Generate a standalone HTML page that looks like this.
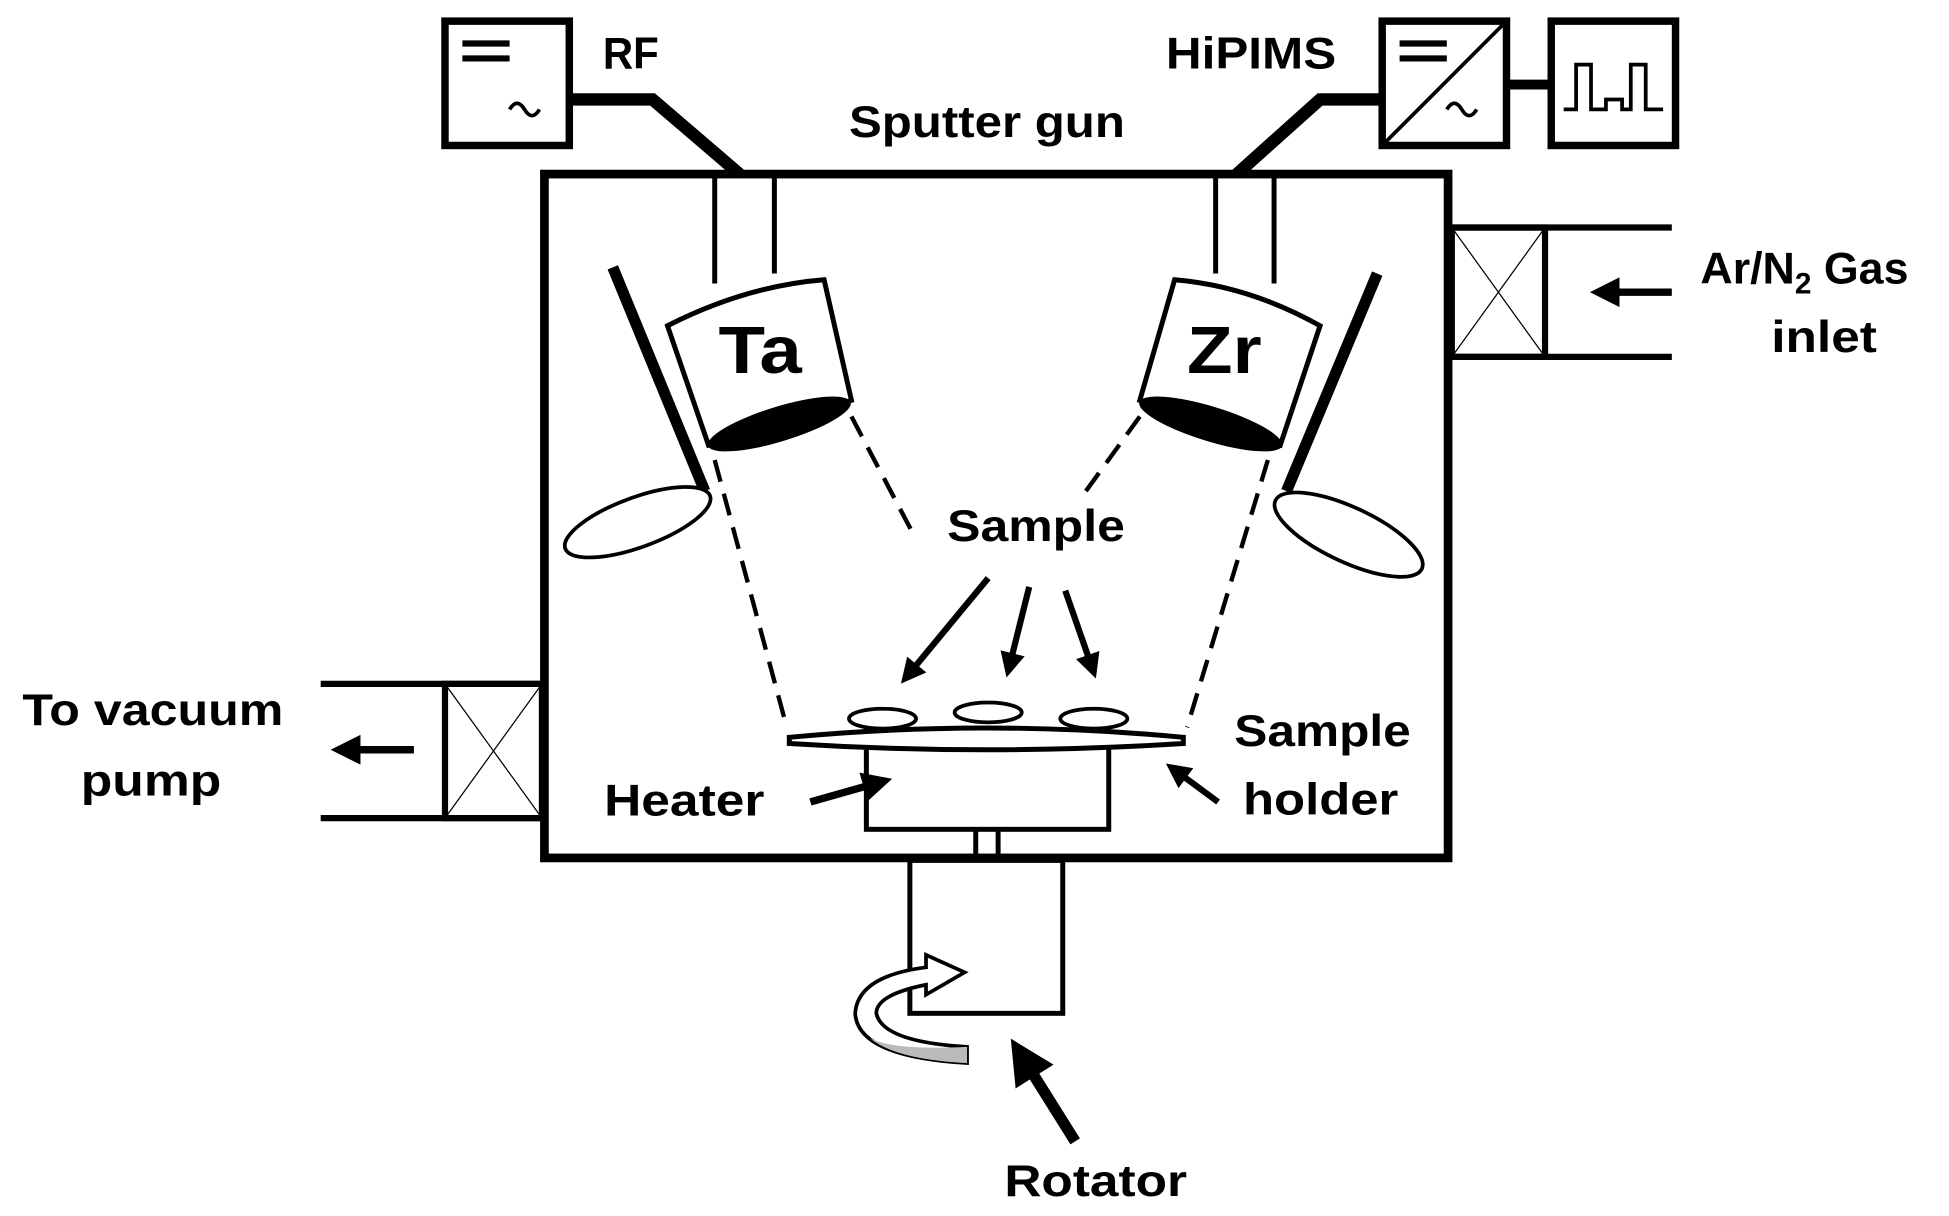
<!DOCTYPE html>
<html><head><meta charset="utf-8"><style>
html,body{margin:0;padding:0;background:#fff;}
svg{display:block}
text{font-family:"Liberation Sans",sans-serif;font-weight:bold;fill:#000}
</style></head><body>
<svg width="1949" height="1216" viewBox="0 0 1568 978" preserveAspectRatio="none" xmlns="http://www.w3.org/2000/svg">
<defs>
<marker id="ah" markerWidth="4" markerHeight="4" refX="3" refY="2" orient="auto" markerUnits="strokeWidth"><path d="M0,0 L4,2 L0,4 Z" fill="#000"/></marker>
</defs>
<rect width="1568" height="978" fill="#fff"/>
<rect x="438" y="140" width="727" height="550" fill="none" stroke="#000" stroke-width="7"/>
<rect x="358" y="17" width="100" height="100" fill="none" stroke="#000" stroke-width="6"/>
<line x1="372" y1="35" x2="410" y2="35" stroke="#000" stroke-width="5"/>
<line x1="372" y1="47" x2="410" y2="47" stroke="#000" stroke-width="5"/>
<path d="M410,88 q6,-10 12,0 t12,0" fill="none" stroke="#000" stroke-width="3"/>
<text x="485" y="55" font-size="36" textLength="45" lengthAdjust="spacingAndGlyphs">RF</text>
<polyline points="458,80 525,80 595,140" fill="none" stroke="#000" stroke-width="10"/>
<text x="938" y="55" font-size="36" textLength="137" lengthAdjust="spacingAndGlyphs">HiPIMS</text>
<polyline points="1112,80 1062,80 995,140" fill="none" stroke="#000" stroke-width="10"/>
<rect x="1112" y="17" width="100" height="100" fill="none" stroke="#000" stroke-width="6"/>
<line x1="1115" y1="114" x2="1209" y2="20" stroke="#000" stroke-width="3"/>
<line x1="1126" y1="35" x2="1164" y2="35" stroke="#000" stroke-width="5"/>
<line x1="1126" y1="47" x2="1164" y2="47" stroke="#000" stroke-width="5"/>
<path d="M1164,88 q6,-10 12,0 t12,0" fill="none" stroke="#000" stroke-width="3"/>
<line x1="1212" y1="68" x2="1248" y2="68" stroke="#000" stroke-width="8"/>
<rect x="1248" y="17" width="100" height="100" fill="none" stroke="#000" stroke-width="6"/>
<polyline points="1258,88 1268,88 1268,52 1280,52 1280,88 1292,88 1292,80 1305,80 1305,88 1312,88 1312,52 1324,52 1324,88 1338,88" fill="none" stroke="#000" stroke-width="3"/>
<text x="683" y="110" font-size="36" textLength="222" lengthAdjust="spacingAndGlyphs">Sputter gun</text>
<!-- Ta gun -->
<line x1="575" y1="140" x2="575" y2="228" stroke="#000" stroke-width="4"/>
<line x1="623" y1="140" x2="623" y2="220" stroke="#000" stroke-width="4"/>
<path d="M537,262 Q600,230 663,225 L685,322 L570,358 Z" fill="#fff" stroke="#000" stroke-width="4"/>
<ellipse cx="627" cy="341" rx="60" ry="14" transform="rotate(-17 627 341)" fill="#000"/>
<text x="578" y="300" font-size="54" textLength="67" lengthAdjust="spacingAndGlyphs">Ta</text>
<line x1="493" y1="215" x2="567" y2="395" stroke="#000" stroke-width="9"/>
<ellipse cx="513" cy="420" rx="62" ry="20" transform="rotate(-20 513 420)" fill="#fff" stroke="#000" stroke-width="3"/>
<line x1="575" y1="370" x2="633" y2="585" stroke="#000" stroke-width="3.5" stroke-dasharray="18,10"/>
<line x1="685" y1="335" x2="735" y2="430" stroke="#000" stroke-width="3.5" stroke-dasharray="18,10"/>
<!-- Zr gun -->
<line x1="978" y1="140" x2="978" y2="220" stroke="#000" stroke-width="4"/>
<line x1="1025" y1="140" x2="1025" y2="228" stroke="#000" stroke-width="4"/>
<path d="M945,225 Q1005,230 1062,262 L1030,358 L917,322 Z" fill="#fff" stroke="#000" stroke-width="4"/>
<ellipse cx="974" cy="341" rx="60" ry="14" transform="rotate(17 974 341)" fill="#000"/>
<text x="955" y="300" font-size="54" textLength="60" lengthAdjust="spacingAndGlyphs">Zr</text>
<line x1="1108" y1="220" x2="1035" y2="395" stroke="#000" stroke-width="9"/>
<ellipse cx="1085" cy="430" rx="65" ry="22" transform="rotate(25 1085 430)" fill="#fff" stroke="#000" stroke-width="3"/>
<line x1="1020" y1="370" x2="955" y2="585" stroke="#000" stroke-width="3.5" stroke-dasharray="18,10"/>
<line x1="917" y1="335" x2="870" y2="400" stroke="#000" stroke-width="3.5" stroke-dasharray="18,10"/>
<!-- gas inlet -->
<line x1="1165" y1="183" x2="1345" y2="183" stroke="#000" stroke-width="5"/>
<line x1="1165" y1="287" x2="1345" y2="287" stroke="#000" stroke-width="5"/>
<rect x="1168" y="183" width="75" height="104" fill="none" stroke="#000" stroke-width="5"/>
<line x1="1168" y1="183" x2="1243" y2="287" stroke="#000" stroke-width="1"/>
<line x1="1243" y1="183" x2="1168" y2="287" stroke="#000" stroke-width="1"/>
<line x1="1345" y1="235" x2="1285" y2="235" stroke="#000" stroke-width="6" marker-end="url(#ah)"/>
<text x="1368" y="228" font-size="36">Ar/N<tspan font-size="24" dy="8">2</tspan><tspan dy="-8"> Gas</tspan></text>
<text x="1425" y="283" font-size="36" textLength="85" lengthAdjust="spacingAndGlyphs">inlet</text>
<!-- vacuum -->
<line x1="258" y1="550" x2="438" y2="550" stroke="#000" stroke-width="5"/>
<line x1="258" y1="658" x2="438" y2="658" stroke="#000" stroke-width="5"/>
<rect x="358" y="550" width="78" height="108" fill="none" stroke="#000" stroke-width="5"/>
<line x1="358" y1="550" x2="436" y2="658" stroke="#000" stroke-width="1"/>
<line x1="436" y1="550" x2="358" y2="658" stroke="#000" stroke-width="1"/>
<line x1="333" y1="603" x2="272" y2="603" stroke="#000" stroke-width="6" marker-end="url(#ah)"/>
<text x="18" y="583" font-size="36" textLength="210" lengthAdjust="spacingAndGlyphs">To vacuum</text>
<text x="65" y="640" font-size="36" textLength="113" lengthAdjust="spacingAndGlyphs">pump</text>
<!-- holder -->
<rect x="697" y="598" width="195" height="69" fill="#fff" stroke="#000" stroke-width="4"/>
<path d="M635,593 Q793,578 952,593 L952,598 Q793,608 635,598 Z" fill="#fff" stroke="#000" stroke-width="4"/>
<ellipse cx="710" cy="578" rx="27" ry="8" fill="#fff" stroke="#000" stroke-width="3"/>
<ellipse cx="795" cy="573" rx="27" ry="8" fill="#fff" stroke="#000" stroke-width="3"/>
<ellipse cx="880" cy="578" rx="27" ry="8" fill="#fff" stroke="#000" stroke-width="3"/>
<text x="762" y="435" font-size="36" textLength="143" lengthAdjust="spacingAndGlyphs">Sample</text>
<line x1="795" y1="465" x2="728" y2="546" stroke="#000" stroke-width="5" marker-end="url(#ah)"/>
<line x1="828" y1="472" x2="811" y2="540" stroke="#000" stroke-width="5" marker-end="url(#ah)"/>
<line x1="857" y1="475" x2="880" y2="541" stroke="#000" stroke-width="5" marker-end="url(#ah)"/>
<text x="486" y="656" font-size="36" textLength="129" lengthAdjust="spacingAndGlyphs">Heater</text>
<line x1="652" y1="645" x2="712" y2="628" stroke="#000" stroke-width="6" marker-end="url(#ah)"/>
<text x="993" y="600" font-size="36" textLength="142" lengthAdjust="spacingAndGlyphs">Sample</text>
<text x="1000" y="655" font-size="36" textLength="125" lengthAdjust="spacingAndGlyphs">holder</text>
<line x1="980" y1="645" x2="942" y2="617" stroke="#000" stroke-width="5" marker-end="url(#ah)"/>
<!-- rotator -->
<line x1="785" y1="667" x2="785" y2="690" stroke="#000" stroke-width="4"/>
<line x1="803" y1="667" x2="803" y2="690" stroke="#000" stroke-width="4"/>
<rect x="732" y="692" width="123" height="123" fill="#fff" stroke="#000" stroke-width="4"/>
<path d="M778,855 Q690,850 688,815 Q690,785 745,778 L745,768 L776,782 L745,800 L745,792 Q705,800 705,815 Q710,838 778,842 Z" fill="#fff" stroke="#000" stroke-width="3"/>
<path d="M778,855 Q720,852 700,835 Q720,845 778,842 Z" fill="#bbb"/>
<line x1="865" y1="918" x2="818" y2="843" stroke="#000" stroke-width="9" marker-end="url(#ah)"/>
<text x="808" y="962" font-size="36" textLength="147" lengthAdjust="spacingAndGlyphs">Rotator</text>
</svg>
</body></html>
